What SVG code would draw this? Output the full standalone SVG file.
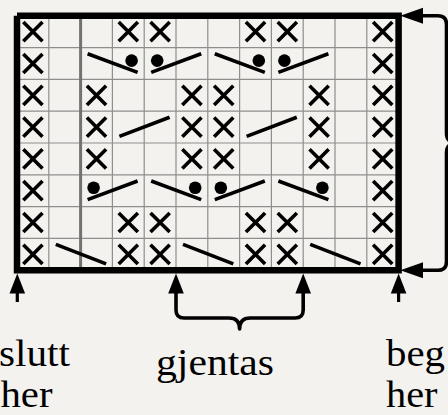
<svg xmlns="http://www.w3.org/2000/svg" xmlns:xlink="http://www.w3.org/1999/xlink" width="448" height="415" viewBox="0 0 448 415">
  <style>
    .grid { stroke: #8e8e8e; stroke-width: 1.2; fill: none; }
    .sep { stroke: #727272; stroke-width: 3; fill: none; }
    .frame { stroke: #000; stroke-width: 6.5; fill: none; stroke-linecap: butt; stroke-linejoin: miter; }
    .sym { stroke: #000; stroke-width: 3.6; fill: none; stroke-linecap: butt; }
    .dot { fill: #000; }
    .conn { stroke: #000; stroke-width: 3.6; fill: none; stroke-linejoin: round; }
    .stem { stroke: #000; stroke-width: 3.2; fill: none; }
    .head { fill: #000; }
    .lbl { font-family: "Liberation Serif", "Times New Roman", serif; font-size: 37px; fill: #000; }
  </style>
  <defs>
    <g id="x"><path class="sym" d="M-9.6,-9.6 L9.6,9.6 M-9.6,9.6 L9.6,-9.6"/></g>
    <g id="bsd"><path class="sym" d="M7,6.2 L57,24.8"/><circle class="dot" cx="51" cy="13" r="6.3"/></g>
    <g id="dfs"><path class="sym" d="M7,24.8 L57,6.2"/><circle class="dot" cx="13" cy="13" r="6.3"/></g>
    <g id="fs"><path class="sym" d="M7,25.2 L57.2,6"/></g>
    <g id="bs"><path class="sym" d="M7,6 L57.3,25.5"/></g>
  </defs>
  <rect width="448" height="415" fill="#f4f2ee"/>

  <g id="chart">
    <path class="grid" d="M48.8,15.8V270.2 M112.4,15.8V270.2 M144.2,15.8V270.2 M176,15.8V270.2 M207.8,15.8V270.2 M239.6,15.8V270.2 M271.4,15.8V270.2 M303.2,15.8V270.2 M335,15.8V270.2 M366.8,15.8V270.2 M17,47.6H398.6 M17,79.4H398.6 M17,111.2H398.6 M17,143H398.6 M17,174.8H398.6 M17,206.6H398.6 M17,238.4H398.6"/>
    <path class="sep" d="M80.6,15.8V270.2"/>
    <path class="frame" d="M17,15.8 V270.2 H398.6 V15.8 H17"/>
  </g>

  <g id="stitches">
    <!-- row 1 -->
    <use href="#x" x="32.9" y="31.7"/><use href="#x" x="128.3" y="31.7"/><use href="#x" x="160.1" y="31.7"/>
    <use href="#x" x="255.5" y="31.7"/><use href="#x" x="287.3" y="31.7"/><use href="#x" x="382.7" y="31.7"/>
    <!-- row 2 -->
    <use href="#x" x="32.9" y="63.5"/><use href="#x" x="382.7" y="63.5"/>
    <use href="#bsd" x="80.6" y="47.6"/><use href="#dfs" x="144.2" y="47.6"/>
    <use href="#bsd" x="207.8" y="47.6"/><use href="#dfs" x="271.4" y="47.6"/>
    <!-- row 3 -->
    <use href="#x" x="32.9" y="95.3"/><use href="#x" x="96.5" y="95.3"/><use href="#x" x="191.9" y="95.3"/>
    <use href="#x" x="223.7" y="95.3"/><use href="#x" x="319.1" y="95.3"/><use href="#x" x="382.7" y="95.3"/>
    <!-- row 4 -->
    <use href="#x" x="32.9" y="127.1"/><use href="#x" x="96.5" y="127.1"/><use href="#x" x="191.9" y="127.1"/>
    <use href="#x" x="223.7" y="127.1"/><use href="#x" x="319.1" y="127.1"/><use href="#x" x="382.7" y="127.1"/>
    <use href="#fs" x="112.4" y="111.2"/><use href="#fs" x="239.6" y="111.2"/>
    <!-- row 5 -->
    <use href="#x" x="32.9" y="158.9"/><use href="#x" x="96.5" y="158.9"/><use href="#x" x="191.9" y="158.9"/>
    <use href="#x" x="223.7" y="158.9"/><use href="#x" x="319.1" y="158.9"/><use href="#x" x="382.7" y="158.9"/>
    <!-- row 6 -->
    <use href="#x" x="32.9" y="190.7"/><use href="#x" x="382.7" y="190.7"/>
    <use href="#dfs" x="80.6" y="174.8"/><use href="#bsd" x="144.2" y="174.8"/>
    <use href="#dfs" x="207.8" y="174.8"/><use href="#bsd" x="271.4" y="174.8"/>
    <!-- row 7 -->
    <use href="#x" x="32.9" y="222.5"/><use href="#x" x="128.3" y="222.5"/><use href="#x" x="160.1" y="222.5"/>
    <use href="#x" x="255.5" y="222.5"/><use href="#x" x="287.3" y="222.5"/><use href="#x" x="382.7" y="222.5"/>
    <!-- row 8 -->
    <use href="#x" x="32.9" y="254.3"/><use href="#x" x="128.3" y="254.3"/><use href="#x" x="160.1" y="254.3"/>
    <use href="#x" x="255.5" y="254.3"/><use href="#x" x="287.3" y="254.3"/><use href="#x" x="382.7" y="254.3"/>
    <use href="#bs" x="48.8" y="238.4"/><use href="#bs" x="176" y="238.4"/><use href="#bs" x="303.2" y="238.4"/>
  </g>

  <g id="connectors">
    <!-- right brace (rows) -->
    <path class="conn" d="M420,15.8 H438 Q446.5,15.8 446.5,24.3 V133 Q446.5,143 457,143 Q446.5,143 446.5,153 V261.7 Q446.5,270.2 438,270.2 H420"/>
    <polygon class="head" points="400.3,15.8 423,7.8 423,23.8"/>
    <polygon class="head" points="400.3,270.2 423,262.2 423,278.2"/>
    <!-- bottom brace (repeat) -->
    <path class="conn" d="M176,291 V310 Q176,318 184,318 H229 Q239.6,318 239.6,329 Q239.6,318 250.2,318 H295.2 Q303.2,318 303.2,310 V291"/>
    <polygon class="head" points="176,273.4 168.2,293.6 183.8,293.6"/>
    <polygon class="head" points="303.2,273.4 295.4,293.6 311,293.6"/>
    <!-- end / start arrows -->
    <path class="stem" d="M17.3,291 V302 M398.6,291 V302"/>
    <polygon class="head" points="17.3,273.4 9.5,293.6 25.1,293.6"/>
    <polygon class="head" points="398.6,273.4 390.8,293.6 406.4,293.6"/>
  </g>

  <g id="labels">
    <text class="lbl" x="-1" y="366" textLength="71" lengthAdjust="spacingAndGlyphs">slutt</text>
    <text class="lbl" x="0.5" y="407" textLength="52" lengthAdjust="spacingAndGlyphs">her</text>
    <text class="lbl" x="156" y="375" textLength="118" lengthAdjust="spacingAndGlyphs">gjentas</text>
    <text class="lbl" x="386" y="366" textLength="59" lengthAdjust="spacingAndGlyphs">beg</text>
    <text class="lbl" x="386" y="407" textLength="51.5" lengthAdjust="spacingAndGlyphs">her</text>
  </g>
</svg>
